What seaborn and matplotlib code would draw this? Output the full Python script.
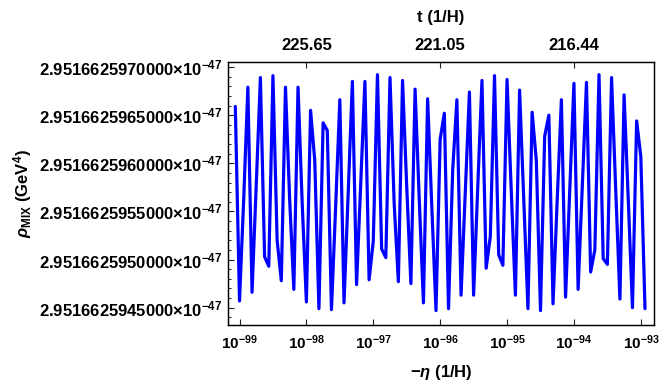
import numpy as np
import matplotlib
matplotlib.use("Agg")
import matplotlib.pyplot as plt
import matplotlib.ticker as mticker
import seaborn as sns

# sampling grid in cosmic time t (1/H), eta = exp(-t)
t_first = 228.1
t_last = 214.0
n_points = 99

# rho_MIX, in units of 1e-57 GeV^4 above 2.95166259e-47
rho_base = 2.95166259e-47
rho_offset = [
    65.9, 45.7, 56.2, 67.9, 46.6, 57.7, 68.9, 50.3, 49.3, 69.1,
    52.0, 47.8, 67.9, 56.2, 46.9, 67.9, 55.8, 45.6, 65.5, 60.3,
    44.9, 64.2, 63.4, 44.8, 55.5, 66.6, 45.5, 56.9, 68.5, 47.4,
    57.9, 68.5, 47.9, 51.9, 69.2, 51.1, 50.2, 68.9, 55.8, 47.7,
    68.6, 57.6, 47.5, 67.7, 56.2, 45.5, 66.7, 55.5, 44.7, 62.5,
    65.2, 44.9, 59.3, 66.6, 46.3, 56.9, 67.4, 46.3, 57.6, 68.6,
    49.1, 52.4, 69.1, 50.5, 49.4, 68.7, 57.2, 46.3, 67.6, 56.2,
    44.9, 65.3, 60.3, 44.7, 62.8, 65.0, 45.4, 56.2, 66.6, 46.1,
    57.2, 68.3, 46.9, 57.6, 68.4, 48.7, 51.0, 69.2, 50.1, 49.5,
    68.9, 57.2, 45.9, 67.1, 56.2, 45.0, 64.4, 60.7, 44.9,
]

# axis ticks
x_decades = [-99, -98, -97, -96, -95, -94, -93]
top_tick_eta = [1e-98, 1e-96, 1e-94]
y_tick_offsets = [45, 50, 55, 60, 65, 70]

t = np.linspace(t_first, t_last, n_points)
eta = np.exp(-t)
rho = rho_base + np.array(rho_offset) * 1e-57

sns.set_theme(style="ticks")
plt.rcParams["font.family"] = ["Liberation Sans", "DejaVu Sans"]
plt.rcParams["font.weight"] = "bold"
plt.rcParams["text.color"] = "black"
plt.rcParams["axes.labelcolor"] = "black"
plt.rcParams["xtick.color"] = "black"
plt.rcParams["ytick.color"] = "black"
plt.rcParams["mathtext.fontset"] = "custom"
plt.rcParams["mathtext.rm"] = "Liberation Sans:bold"
plt.rcParams["mathtext.bf"] = "Liberation Sans:bold"
plt.rcParams["mathtext.it"] = "Liberation Sans:bold:italic"
plt.rcParams["mathtext.sf"] = "Liberation Sans:bold"

fs = 12
fig = plt.figure(figsize=(6.59, 3.81), dpi=100)
ax = fig.add_axes([228 / 659, 1 - 325 / 381, (654.3 - 228) / 659, (325 - 61.7) / 381])
ax.set_xscale("log")

sns.lineplot(x=eta, y=rho, ax=ax, color="#0000ff", linewidth=2.3, sort=False)

ax.set_xlim(10 ** -99.172, 10 ** -92.80)
ax.set_ylim(rho_base + 43.2e-57, rho_base + 70.55e-57)

# bottom axis
ax.xaxis.set_major_locator(mticker.FixedLocator([10.0 ** d for d in x_decades]))
ax.xaxis.set_minor_locator(mticker.NullLocator())
ax.set_xticklabels([r"$10^{%d}$" % d for d in x_decades])

# left axis
ax.yaxis.set_major_locator(mticker.FixedLocator([rho_base + k * 1e-57 for k in y_tick_offsets]))
ax.yaxis.set_minor_locator(mticker.FixedLocator([rho_base + k * 1e-57 for k in range(43, 71)]))
ax.yaxis.set_major_formatter(mticker.FuncFormatter(
    lambda v, p: f"{v * 1e47:.13f}" + "×10" + r"$^{-47}$"))

ax.tick_params(axis="both", which="major", direction="in", length=4, width=0.8,
               color="#222222", labelsize=fs, top=False, right=False)
ax.tick_params(axis="y", which="minor", direction="in", length=2.2, width=0.7,
               color="#222222", right=False)
ax.tick_params(axis="x", pad=6, labelsize=11)
ax.tick_params(axis="y", pad=4)

for s in ax.spines.values():
    s.set_color("black")
    s.set_linewidth(0.9)

ax.set_xlabel(r"$-\eta$ (1/H)", fontsize=fs, fontweight="bold")
ax.xaxis.set_label_coords(0.5, -0.145)
ax.set_ylabel(r"$\rho_{\mathregular{MIX}}$ (GeV$^4$)", fontsize=fs, fontweight="bold")
ax.yaxis.set_label_coords(-0.455, 0.5)

# top axis: t = -ln(eta)
ax2 = ax.twiny()
ax2.set_xscale("log")
ax2.set_xlim(ax.get_xlim())
ax2.xaxis.set_major_locator(mticker.FixedLocator(top_tick_eta))
ax2.xaxis.set_minor_locator(mticker.NullLocator())
ax2.set_xticklabels([f"{-np.log(e):.2f}" for e in top_tick_eta])
ax2.tick_params(axis="x", which="major", direction="in", length=4, width=0.8,
                color="#222222", labelsize=fs, pad=6)
ax2.set_xlabel("t (1/H)", fontsize=fs, fontweight="bold")
ax2.xaxis.set_label_coords(0.5, 1.15)
for s in ax2.spines.values():
    s.set_color("black")
    s.set_linewidth(0.9)

fig.savefig("out.png", dpi=100)
